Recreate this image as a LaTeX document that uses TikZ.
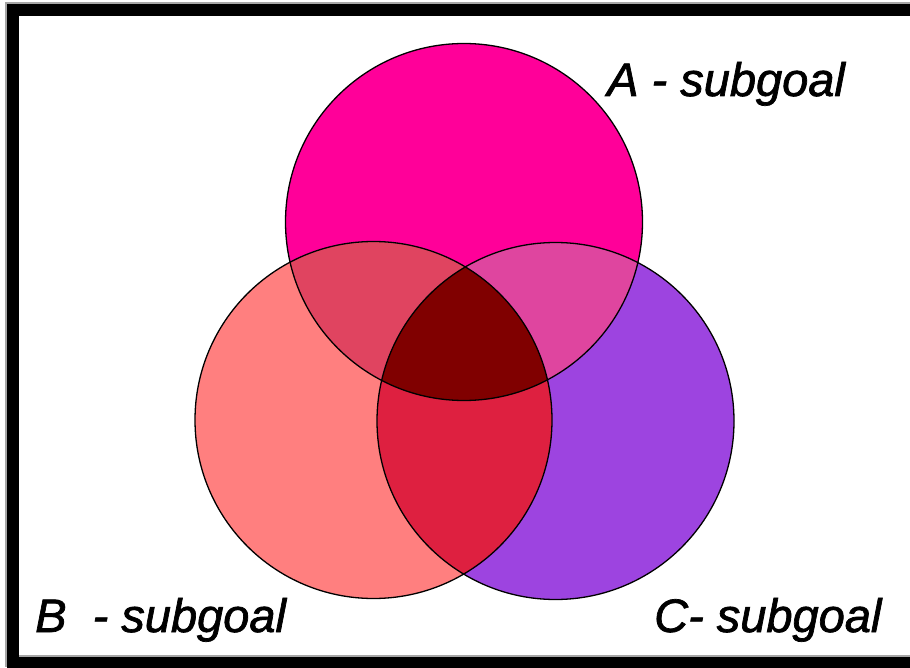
\documentclass[tikz,border=0pt]{standalone}
\usepackage{fontspec}
\setmainfont{Liberation Sans}
\newfontfamily\lblfont[FakeBold=1.5]{Liberation Sans}
\definecolor{colA}{HTML}{FF0099}
\definecolor{colB}{HTML}{FF7F7F}
\definecolor{colC}{HTML}{9D44E0}
\definecolor{colAB}{HTML}{E04460}
\definecolor{colAC}{HTML}{DF459F}
\definecolor{colBC}{HTML}{DE2040}
\definecolor{colABC}{HTML}{800000}
\begin{document}
\begin{tikzpicture}[x=1pt,y=-1pt,
  lbl/.style={font=\lblfont\fontsize{47}{52}\selectfont\itshape,anchor=base west,inner sep=0pt},
  ring/.style={draw=black,line width=1.3pt}]
\useasboundingbox (0,0) rectangle (910,668);
\clip (0,0) rectangle (910,668);
\fill[white] (0,0) rectangle (910,668);
% frame
\draw[gray!70,line width=12pt] (11,8.5) rectangle (930,661);
\draw[black,line width=12pt] (13,10.5) rectangle (932,663);
% circle coordinates
\coordinate (A) at (464,222);
\coordinate (B) at (373.5,420);
\coordinate (C) at (555.5,421);
\def\rr{178.5}
% fills
\fill[colA] (A) circle (\rr);
\fill[colB] (B) circle (\rr);
\fill[colC] (C) circle (\rr);
\begin{scope}\clip (A) circle (\rr); \fill[colAB] (B) circle (\rr); \end{scope}
\begin{scope}\clip (A) circle (\rr); \fill[colAC] (C) circle (\rr); \end{scope}
\begin{scope}\clip (B) circle (\rr); \fill[colBC] (C) circle (\rr); \end{scope}
\begin{scope}\clip (A) circle (\rr); \clip (B) circle (\rr); \fill[colABC] (C) circle (\rr); \end{scope}
% outlines
\draw[ring] (A) circle (\rr);
\draw[ring] (B) circle (\rr);
\draw[ring] (C) circle (\rr);
% labels
\node[lbl] (la) at (607,96) {A - subgoal};
\node[lbl] (lb) at (35,632) {B\ \ - subgoal};
\node[lbl] (lc) at (654,632) {C- subgoal};
\end{tikzpicture}
\end{document}
